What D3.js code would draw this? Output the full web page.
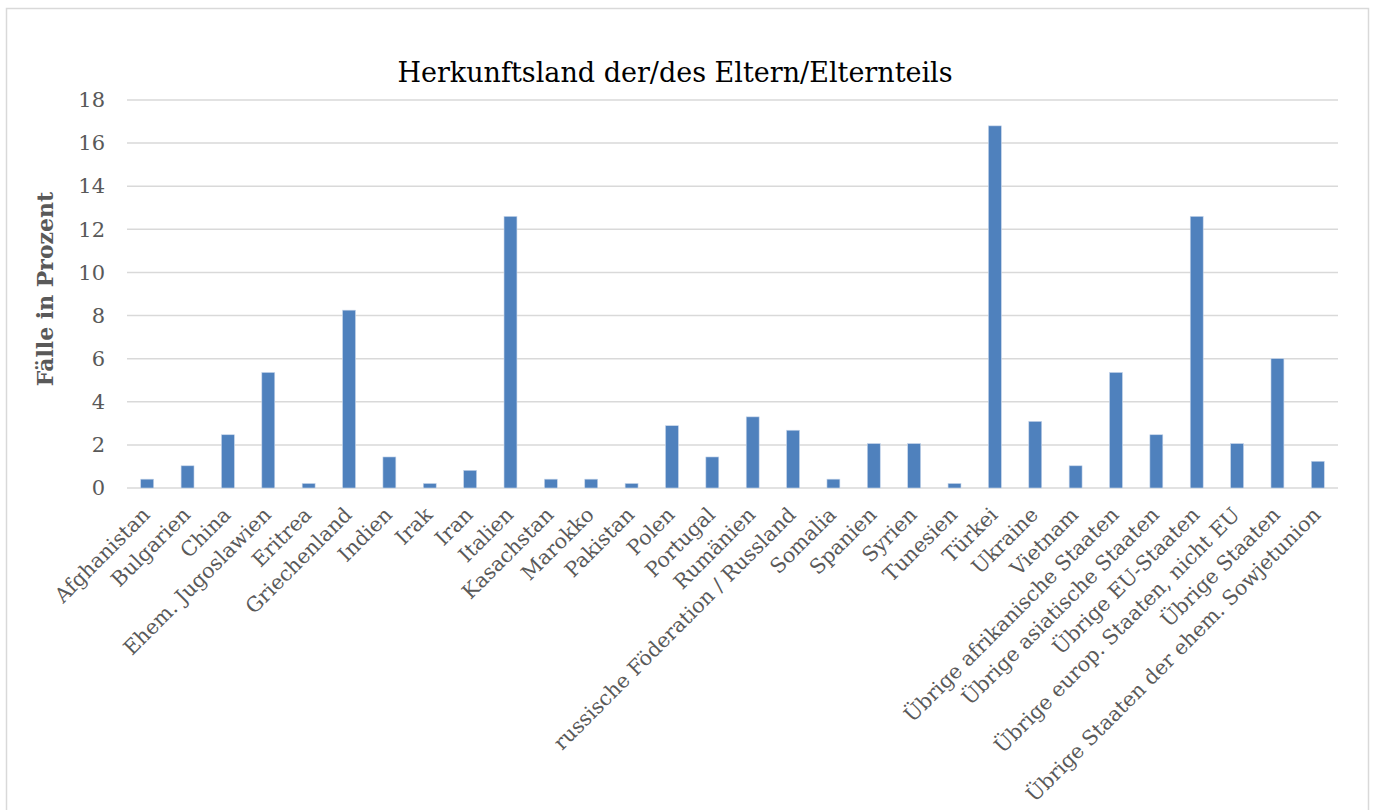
<!DOCTYPE html>
<html>
<head>
<meta charset="utf-8">
<script src="https://cdn.jsdelivr.net/npm/d3@7"></script>
<style>
  body { margin: 0; background: #fff; }
  svg { display: block; font-family: "DejaVu Serif", serif; }
</style>
</head>
<body>
<div class="container"></div>
<script>
const categories = ["Afghanistan", "Bulgarien", "China", "Ehem. Jugoslawien", "Eritrea", "Griechenland",
  "Indien", "Irak", "Iran", "Italien", "Kasachstan", "Marokko", "Pakistan", "Polen", "Portugal",
  "Rumänien", "russische Föderation / Russland", "Somalia", "Spanien", "Syrien", "Tunesien", "Türkei",
  "Ukraine", "Vietnam", "Übrige afrikanische Staaten", "Übrige asiatische Staaten", "Übrige EU-Staaten",
  "Übrige europ. Staaten, nicht EU", "Übrige Staaten", "Übrige Staaten der ehem. Sowjetunion"];
const values = [0.41, 1.03, 2.47, 5.36, 0.21, 8.25, 1.44, 0.21, 0.82, 12.6, 0.41, 0.41, 0.21, 2.89, 1.44,
  3.3, 2.68, 0.41, 2.06, 2.06, 0.21, 16.8, 3.09, 1.03, 5.36, 2.47, 12.6, 2.06, 6.0, 1.24];
const yTicks = [0, 2, 4, 6, 8, 10, 12, 14, 16, 18];

const w = 1373, h = 810;
const padL = 127, padR = 1338, padT = 100, padB = 488;

const svg = d3.select(".container").append("svg")
  .attr("width", w).attr("height", h);

// outer chart frame
svg.append("rect")
  .attr("x", 6.5).attr("y", 8.5).attr("width", 1362).attr("height", 810)
  .attr("fill", "none").attr("stroke", "#d9d9d9").attr("stroke-width", 1.5);

const xScale = d3.scaleBand().domain(categories).range([padL, padR]).paddingInner(0.68).paddingOuter(0.34);
const yScale = d3.scaleLinear().domain([0, 18]).range([padB, padT]);

// gridlines
svg.append("g").selectAll("line").data(yTicks).enter().append("line")
  .attr("x1", padL).attr("x2", padR)
  .attr("y1", d => yScale(d)).attr("y2", d => yScale(d))
  .attr("stroke", "#d9d9d9").attr("stroke-width", 1.5);

// y axis labels
const yAxis = d3.axisLeft(yScale).tickValues(yTicks).tickSize(0).tickPadding(0);
const gy = svg.append("g").attr("transform", "translate(105,0)").call(yAxis);
gy.select(".domain").remove();
gy.selectAll("text").attr("font-size", 21).attr("fill", "#595959")
  .attr("font-family", "DejaVu Serif, serif");

// bars
svg.append("g").selectAll("rect").data(values).enter().append("rect")
  .attr("x", (d, i) => xScale(categories[i]))
  .attr("y", d => yScale(d))
  .attr("width", xScale.bandwidth())
  .attr("height", d => padB - yScale(d))
  .attr("fill", "#4f81bd")
  .attr("stroke", "#c6d5ea").attr("stroke-width", 0.6);

// x axis labels
const xAxis = d3.axisBottom(xScale).tickSize(0).tickPadding(0);
const gx = svg.append("g").attr("transform", "translate(0," + padB + ")").call(xAxis);
gx.select(".domain").remove();
gx.selectAll("text")
  .attr("font-size", 20.5).attr("fill", "#595959")
  .attr("font-family", "DejaVu Serif, serif")
  .attr("text-anchor", "end")
  .attr("y", 0).attr("dy", 0)
  .attr("transform", "translate(4,28) rotate(-45)");

// title
svg.append("text").attr("x", 675).attr("y", 82).attr("text-anchor", "middle")
  .attr("font-size", 27).attr("fill", "#000")
  .text("Herkunftsland der/des Eltern/Elternteils");

// y label
svg.append("text").attr("transform", "translate(53,289) rotate(-90)")
  .attr("text-anchor", "middle").attr("font-size", 22).attr("font-weight", "bold")
  .attr("fill", "#595959")
  .text("Fälle in Prozent");
</script>
</body>
</html>
